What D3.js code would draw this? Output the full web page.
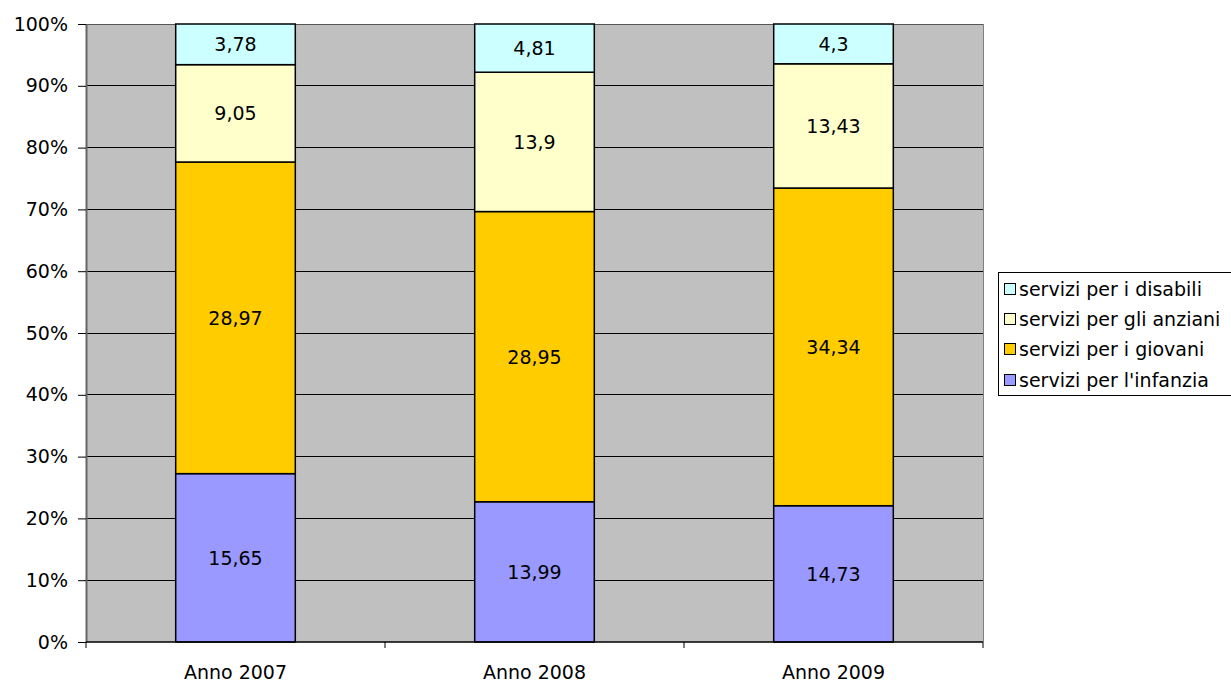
<!DOCTYPE html>
<html><head><meta charset="utf-8">
<script src="https://cdn.jsdelivr.net/npm/d3@7"></script>
<style>body{margin:0;background:#fff;}svg{display:block;font-family:"DejaVu Sans",Verdana,sans-serif;}</style>
</head><body>
<svg id="c" width="1231" height="682"></svg>
<script>
const categories = ["Anno 2007", "Anno 2008", "Anno 2009"];
const seriesNames = ["servizi per l'infanzia", "servizi per i giovani", "servizi per gli anziani", "servizi per i disabili"];
const infanzia = [15.65, 13.99, 14.73];
const giovani = [28.97, 28.95, 34.34];
const anziani = [9.05, 13.9, 13.43];
const disabili = [3.78, 4.81, 4.3];
const colors = ["#9999FF", "#FFCC00", "#FFFFCC", "#CCFFFF"];
const yTicks = [0, 0.1, 0.2, 0.3, 0.4, 0.5, 0.6, 0.7, 0.8, 0.9, 1];

const FS = "19px";
const series = [infanzia, giovani, anziani, disabili];
const svg = d3.select("#c");
const L = 86, R = 983, T = 24, B = 642;
const x = d3.scaleBand().domain(categories).range([L, R]).paddingInner(0.6).paddingOuter(0.3);
const xc = d3.scaleBand().domain(categories).range([L, R]);
const y = d3.scaleLinear().domain([0, 1]).range([B, T]);

svg.append("rect").attr("x", L).attr("y", T).attr("width", R - L).attr("height", B - T).attr("fill", "#C0C0C0");
svg.append("g").selectAll("line").data(yTicks.slice(1)).join("line")
  .attr("x1", L).attr("x2", R).attr("y1", d => y(d)).attr("y2", d => y(d))
  .attr("stroke", d => d === 1 ? "#555" : "#000").attr("stroke-width", 1).attr("shape-rendering", "crispEdges");
svg.append("line").attr("x1", R).attr("x2", R).attr("y1", T).attr("y2", B).attr("stroke", "#808080").attr("shape-rendering", "crispEdges");

const fmt = v => String(v).replace(".", ",");
categories.forEach((c, i) => {
  const total = d3.sum(series, s => s[i]);
  let acc = 0;
  series.forEach((s, k) => {
    const y0 = acc / total, y1 = (acc + s[i]) / total;
    acc += s[i];
    svg.append("rect").attr("x", x(c)).attr("width", x.bandwidth())
      .attr("y", y(y1)).attr("height", y(y0) - y(y1))
      .attr("fill", colors[k]).attr("stroke", "#000").attr("stroke-width", 1.5);
    svg.append("text").attr("x", x(c) + x.bandwidth() / 2).attr("y", (y(y0) + y(y1)) / 2)
      .attr("text-anchor", "middle").attr("dominant-baseline", "central")
      .attr("font-size", FS).attr("fill", "#000").text(fmt(s[i]));
  });
});

const yAxis = d3.axisLeft(y).tickValues(yTicks).tickFormat(d3.format(".0%")).tickSize(8).tickSizeOuter(0);
const gy = svg.append("g").attr("transform", `translate(${L},0)`).call(yAxis);
gy.select(".domain").attr("stroke", "#666").attr("stroke-width", 2);
gy.selectAll(".tick line").attr("stroke", "#000");
gy.selectAll("text").attr("font-size", FS).attr("font-family", "DejaVu Sans").attr("fill", "#000").attr("x", -18);

const gx = svg.append("g").attr("transform", `translate(0,${B})`);
gx.append("line").attr("x1", L).attr("x2", R).attr("stroke", "#000").attr("stroke-width", 1.5);
const bounds = categories.map(c => xc(c)).concat([R]);
gx.selectAll(".tk").data(bounds).join("line").attr("x1", d => d).attr("x2", d => d).attr("y1", 0).attr("y2", 6).attr("stroke", "#000");
gx.selectAll("text").data(categories).join("text").attr("x", d => xc(d) + xc.bandwidth() / 2).attr("y", 30)
  .attr("text-anchor", "middle").attr("dominant-baseline", "central").attr("font-size", FS).attr("fill", "#000").text(d => d);

const lg = svg.append("g");
lg.append("rect").attr("x", 998.5).attr("y", 272.5).attr("width", 240).attr("height", 123).attr("fill", "#fff").attr("stroke", "#000");
const legendOrder = [3, 2, 1, 0];
const ly = [289, 319, 349, 380];
legendOrder.forEach((k, j) => {
  lg.append("rect").attr("x", 1004.5).attr("y", ly[j] - 5.5).attr("width", 11).attr("height", 11).attr("fill", colors[k]).attr("stroke", "#000");
  lg.append("text").attr("x", 1019).attr("y", ly[j]).attr("dominant-baseline", "central").attr("font-size", FS).attr("fill", "#000").text(seriesNames[k]);
});
</script>
</body></html>
